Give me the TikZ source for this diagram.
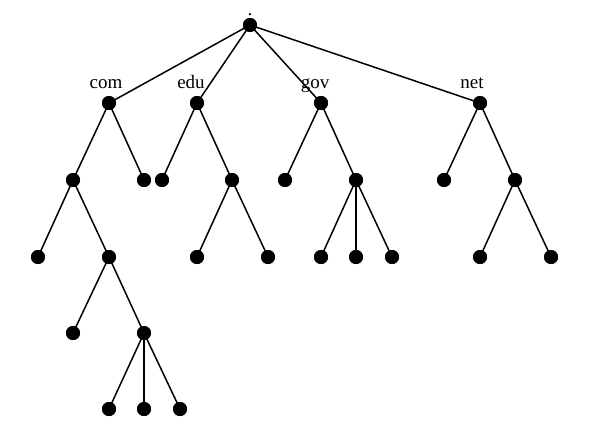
\documentclass[tikz,border=0pt]{standalone}
\usepackage{fontspec}
\setmainfont{Liberation Serif}
\begin{document}
\begin{tikzpicture}[x=1pt,y=-1pt,
  dot/.style={circle,fill=black,inner sep=0pt,minimum size=14pt},
  lab/.style={font=\fontsize{19}{19}\selectfont,anchor=base,inner sep=0pt},
  edge/.style={line width=1.5pt}]
\useasboundingbox (0,0) rectangle (591,439);
\fill[white] (0,0) rectangle (591,439);
% level 0
\node[dot] (r) at (250,25) {};
\node[lab] (rl) at (250,16) {.};
% level 1
\node[dot] (com) at (109,103) {};
\node[dot] (edu) at (197,103) {};
\node[dot] (gov) at (321,103) {};
\node[dot] (net) at (480,103) {};
\node[lab] (comL) at (106,88) {com};
\node[lab] (eduL) at (191,88) {edu};
\node[lab] (govL) at (315,88) {gov};
\node[lab] (netL) at (472,88) {net};
% level 2
\node[dot] (c1) at (73,180) {};
\node[dot] (c2) at (144,180) {};
\node[dot] (e1) at (162,180) {};
\node[dot] (e2) at (232,180) {};
\node[dot] (g1) at (285,180) {};
\node[dot] (g2) at (356,180) {};
\node[dot] (n1) at (444,180) {};
\node[dot] (n2) at (515,180) {};
% level 3
\node[dot] (c11) at (38,257) {};
\node[dot] (c12) at (109,257) {};
\node[dot] (e21) at (197,257) {};
\node[dot] (e22) at (268,257) {};
\node[dot] (g21) at (321,257) {};
\node[dot] (g22) at (356,257) {};
\node[dot] (g23) at (392,257) {};
\node[dot] (n21) at (480,257) {};
\node[dot] (n22) at (551,257) {};
% level 4
\node[dot] (c121) at (73,333) {};
\node[dot] (c122) at (144,333) {};
% level 5
\node[dot] (d1) at (109,409) {};
\node[dot] (d2) at (144,409) {};
\node[dot] (d3) at (180,409) {};
% edges
\draw[edge] (r.center) -- (com.center);
\draw[edge] (r.center) -- (edu.center);
\draw[edge] (r.center) -- (gov.center);
\draw[edge] (r.center) -- (net.center);
\draw[edge] (com.center) -- (c1.center);
\draw[edge] (com.center) -- (c2.center);
\draw[edge] (edu.center) -- (e1.center);
\draw[edge] (edu.center) -- (e2.center);
\draw[edge] (gov.center) -- (g1.center);
\draw[edge] (gov.center) -- (g2.center);
\draw[edge] (net.center) -- (n1.center);
\draw[edge] (net.center) -- (n2.center);
\draw[edge] (c1.center) -- (c11.center);
\draw[edge] (c1.center) -- (c12.center);
\draw[edge] (e2.center) -- (e21.center);
\draw[edge] (e2.center) -- (e22.center);
\draw[edge] (g2.center) -- (g21.center);
\draw[edge] (g2.center) -- (g22.center);
\draw[edge] (g2.center) -- (g23.center);
\draw[edge] (n2.center) -- (n21.center);
\draw[edge] (n2.center) -- (n22.center);
\draw[edge] (c12.center) -- (c121.center);
\draw[edge] (c12.center) -- (c122.center);
\draw[edge] (c122.center) -- (d1.center);
\draw[edge] (c122.center) -- (d2.center);
\draw[edge] (c122.center) -- (d3.center);
% redraw dots on top
\foreach \n in {r,com,edu,gov,net,c1,c2,e1,e2,g1,g2,n1,n2,c11,c12,e21,e22,g21,g22,g23,n21,n22,c121,c122,d1,d2,d3}
  \fill (\n) circle (7pt);
\end{tikzpicture}
\end{document}
